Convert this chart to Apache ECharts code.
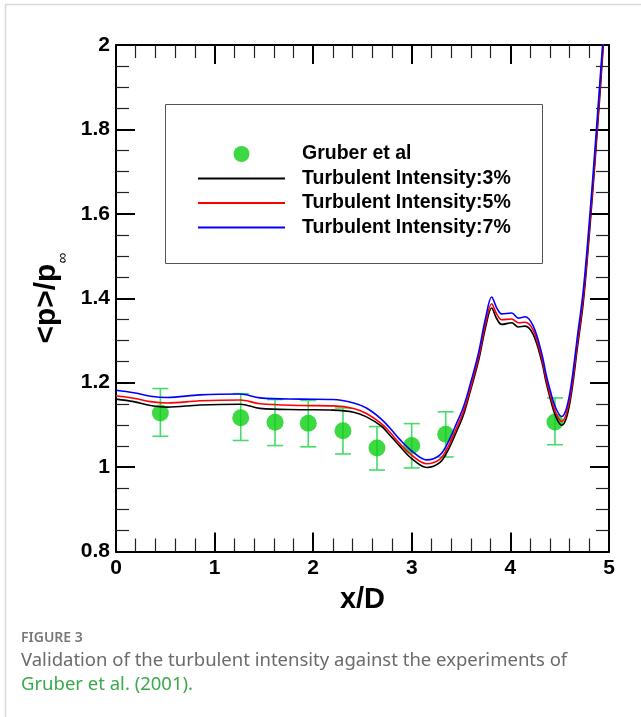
<!DOCTYPE html>
<html>
<head>
<meta charset="utf-8">
<script src="https://cdn.jsdelivr.net/npm/echarts@6/dist/echarts.min.js"></script>
<style>
html,body{margin:0;padding:0;background:#fff;}
#chart{width:641px;height:717px;}
</style>
</head>
<body>
<div id="chart"></div>
<script>
// experiment (Gruber et al)
var expX = [0.45, 1.265, 1.613, 1.95, 2.302, 2.647, 2.999, 3.344, 4.452];
var expY = [1.128, 1.117, 1.106, 1.104, 1.086, 1.045, 1.051, 1.078, 1.107];
var expLow = [1.073, 1.063, 1.051, 1.048, 1.031, 0.993, 0.998, 1.024, 1.053];
var expHigh = [1.186, 1.174, 1.160, 1.158, 1.140, 1.096, 1.103, 1.131, 1.164];

// simulation curves, shared x/D stations
var simX = [0, 0.18, 0.35, 0.52, 0.85, 1.26, 1.46, 1.87, 2.2, 2.41, 2.54, 2.685, 2.78, 2.88, 3.0, 3.151, 3.286, 3.37, 3.455, 3.52, 3.577, 3.676, 3.75, 3.81, 3.86, 3.912, 4.013, 4.08, 4.148, 4.232, 4.317, 4.36, 4.402, 4.46, 4.52, 4.57, 4.62, 4.68, 4.74, 4.80, 4.86, 4.91, 4.935, 4.96];
var ti3 = [1.161, 1.155, 1.146, 1.142, 1.147, 1.149, 1.139, 1.136, 1.135, 1.130, 1.119, 1.098, 1.075, 1.049, 1.020, 0.999, 1.011, 1.041, 1.085, 1.121, 1.166, 1.251, 1.333, 1.377, 1.352, 1.338, 1.342, 1.332, 1.334, 1.314, 1.251, 1.203, 1.164, 1.120, 1.099, 1.118, 1.176, 1.284, 1.392, 1.550, 1.730, 1.890, 1.975, 2.055];
var ti5 = [1.169, 1.163, 1.155, 1.152, 1.157, 1.159, 1.150, 1.146, 1.145, 1.139, 1.127, 1.104, 1.082, 1.055, 1.028, 1.008, 1.019, 1.049, 1.093, 1.129, 1.172, 1.259, 1.342, 1.387, 1.363, 1.349, 1.351, 1.342, 1.343, 1.324, 1.259, 1.211, 1.172, 1.129, 1.108, 1.128, 1.186, 1.294, 1.403, 1.562, 1.742, 1.902, 1.985, 2.065];
var ti7 = [1.182, 1.176, 1.168, 1.165, 1.171, 1.173, 1.164, 1.161, 1.160, 1.152, 1.140, 1.115, 1.092, 1.065, 1.038, 1.017, 1.029, 1.060, 1.104, 1.140, 1.183, 1.270, 1.355, 1.403, 1.378, 1.363, 1.365, 1.353, 1.356, 1.334, 1.270, 1.222, 1.183, 1.140, 1.120, 1.140, 1.200, 1.310, 1.420, 1.580, 1.760, 1.920, 2.000, 2.080];

var names = ['Gruber et al', 'Turbulent Intensity:3%', 'Turbulent Intensity:5%', 'Turbulent Intensity:7%'];
var xTicks = {min: 0, max: 5, step: 1};
var yTicks = {min: 0.8, max: 2, step: 0.2};

function pairs(xs, ys) {
    return xs.map(function (x, i) { return [x, ys[i]]; });
}

var tickFont = "'Liberation Sans', Arial, sans-serif";
var capFont = "'Noto Sans', 'Open Sans', sans-serif";

function xAxisOf(pos, labels) {
    return {
        type: 'value', position: pos, min: xTicks.min, max: xTicks.max, interval: xTicks.step,
        axisLine: {show: true, onZero: false, lineStyle: {color: '#000', width: 2}},
        axisTick: {show: true, inside: true, length: 19, lineStyle: {color: '#000', width: 2}},
        minorTick: {show: true, splitNumber: 5, length: 13, lineStyle: {color: '#222', width: 1.2}},
        splitLine: {show: false},
        axisLabel: {show: labels, margin: 6, color: '#000', fontSize: 21, fontWeight: 'bold', fontFamily: tickFont}
    };
}
function yAxisOf(pos, labels) {
    return {
        type: 'value', position: pos, min: yTicks.min, max: yTicks.max, interval: yTicks.step,
        axisLine: {show: true, onZero: false, lineStyle: {color: '#000', width: 2}},
        axisTick: {show: true, inside: true, length: 19, lineStyle: {color: '#000', width: 2}},
        minorTick: {show: true, splitNumber: 4, length: 13, lineStyle: {color: '#222', width: 1.2}},
        splitLine: {show: false},
        axisLabel: {show: labels, margin: 6, color: '#000', fontSize: 21, fontWeight: 'bold', fontFamily: tickFont}
    };
}

var xBottom = xAxisOf('bottom', true);
xBottom.name = 'x/D';
xBottom.nameLocation = 'middle';
xBottom.nameGap = 34;
xBottom.nameTextStyle = {color: '#000', fontSize: 29, fontWeight: 'bold', fontFamily: tickFont};

var yLeft = yAxisOf('left', true);
yLeft.name = '{a|<p>/p}{b|∞}';
yLeft.nameLocation = 'middle';
yLeft.nameGap = 44;
yLeft.nameRotate = 90;
yLeft.nameTextStyle = {
    rich: {
        a: {color: '#000', fontSize: 30, fontWeight: 'bold', fontFamily: tickFont, lineHeight: 46},
        b: {color: '#000', fontSize: 15, fontFamily: tickFont, verticalAlign: 'bottom', lineHeight: 12}
    }
};

var lineBase = {type: 'line', symbol: 'none', smooth: 0.35, clip: true, z: 3};
var noMark = {opacity: 0};

var chart = echarts.init(document.getElementById('chart'), null, {renderer: 'canvas'});
chart.setOption({
    backgroundColor: '#fff',
    animation: false,
    grid: {left: 116, top: 45, width: 493, height: 506.5, containLabel: false},
    xAxis: [xBottom, xAxisOf('top', false)],
    yAxis: [yLeft, yAxisOf('right', false)],
    legend: {
        orient: 'vertical', left: 197, top: 144, padding: 0,
        itemWidth: 87, itemHeight: 16, itemGap: 4.5,
        textStyle: {color: '#000', fontSize: 19.5, fontWeight: 'bold', fontFamily: tickFont, padding: [0, 0, 0, 12]},
        data: [
            {name: names[0], icon: 'circle'},
            {name: names[1], itemStyle: noMark},
            {name: names[2], itemStyle: noMark},
            {name: names[3], itemStyle: noMark}
        ],
        selectedMode: false
    },
    series: [
        {
            type: 'custom',
            name: 'errors',
            z: 1,
            data: expX.map(function (x, i) { return [x, expLow[i], expHigh[i]]; }),
            renderItem: function (params, api) {
                var lo = api.coord([api.value(0), api.value(1)]);
                var hi = api.coord([api.value(0), api.value(2)]);
                var half = 8;
                var st = {stroke: '#44dd6a', lineWidth: 1.6};
                return {
                    type: 'group',
                    children: [
                        {type: 'line', shape: {x1: lo[0], y1: lo[1], x2: hi[0], y2: hi[1]}, style: st},
                        {type: 'line', shape: {x1: lo[0] - half, y1: lo[1], x2: lo[0] + half, y2: lo[1]}, style: st},
                        {type: 'line', shape: {x1: hi[0] - half, y1: hi[1], x2: hi[0] + half, y2: hi[1]}, style: st}
                    ]
                };
            }
        },
        {
            type: 'scatter',
            name: names[0],
            z: 2,
            symbol: 'circle',
            symbolSize: 17,
            itemStyle: {color: '#0ccf14'},
            data: pairs(expX, expY)
        },
        Object.assign({}, lineBase, {name: names[1], data: pairs(simX, ti3), lineStyle: {color: '#000', width: 1.6}, itemStyle: {color: '#000'}}),
        Object.assign({}, lineBase, {name: names[2], data: pairs(simX, ti5), lineStyle: {color: '#ff0000', width: 1.6}, itemStyle: {color: '#ff0000'}}),
        Object.assign({}, lineBase, {name: names[3], data: pairs(simX, ti7), lineStyle: {color: '#0000ff', width: 1.6}, itemStyle: {color: '#0000ff'}})
    ],
    graphic: [
        {type: 'line', shape: {x1: 5, y1: 4.5, x2: 641, y2: 4.5}, style: {stroke: '#d8d8d8', lineWidth: 1.5}, silent: true},
        {type: 'line', shape: {x1: 5.5, y1: 4, x2: 5.5, y2: 717}, style: {stroke: '#d8d8d8', lineWidth: 1.5}, silent: true},
        {type: 'rect', shape: {x: 165.5, y: 104.5, width: 377, height: 159}, style: {fill: 'none', stroke: '#555', lineWidth: 1}, z: 10, silent: true},
        {type: 'text', left: 21, top: 631, style: {text: 'FIGURE 3', fill: '#777', font: "600 14px " + capFont}, silent: true},
        {type: 'text', left: 21, top: 651, style: {text: 'Validation of the turbulent intensity against the experiments of', fill: '#6a6a6a', font: "18.5px " + capFont}, silent: true},
        {type: 'text', left: 21, top: 675, style: {text: 'Gruber et al. (2001).', fill: '#3aaa4a', font: "18.5px " + capFont}, silent: true}
    ]
});
</script>
</body>
</html>
